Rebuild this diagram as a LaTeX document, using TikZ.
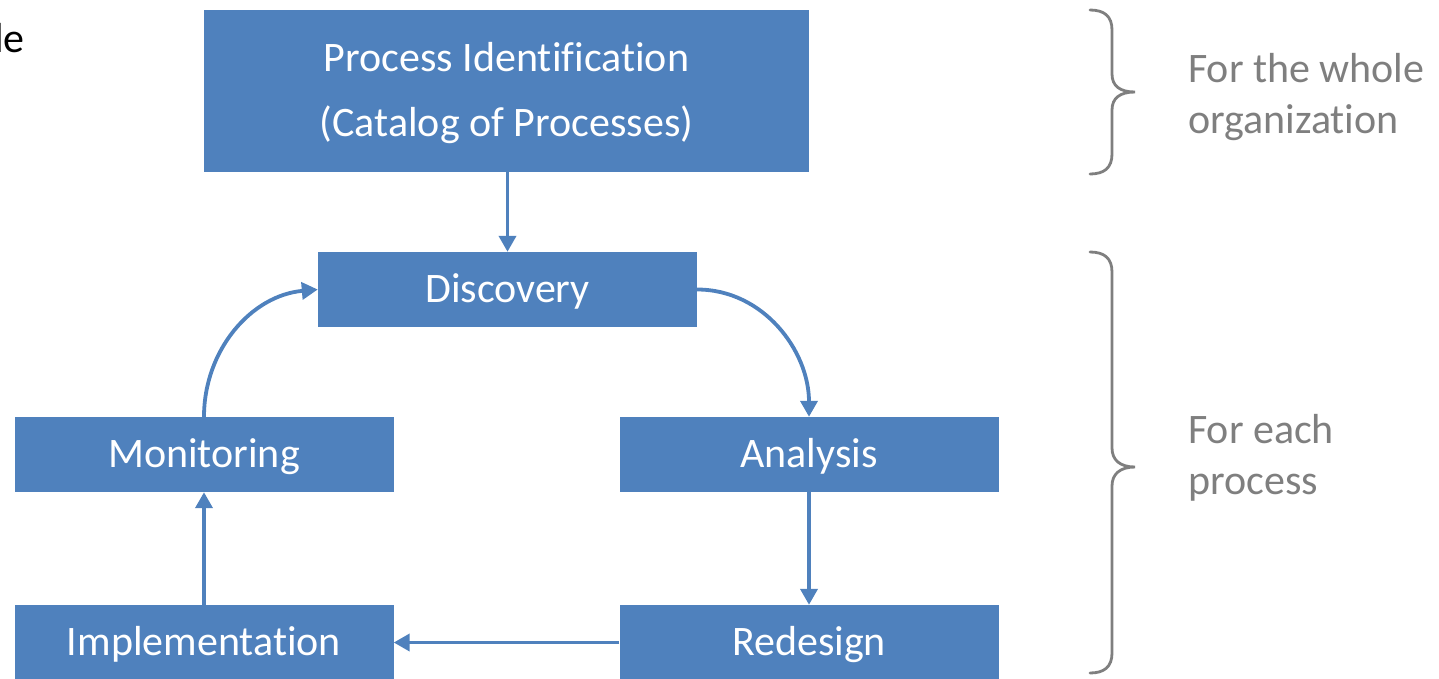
\documentclass[tikz,border=0pt]{standalone}
\usepackage{fontspec}
\setmainfont{Carlito}[Ligatures=NoCommon]
\usetikzlibrary{arrows.meta}
\definecolor{boxblue}{RGB}{79,129,189}
\definecolor{notegray}{RGB}{127,127,127}
\begin{document}
\begin{tikzpicture}[x=1pt,y=1pt,
  stage/.style={fill=boxblue, text=white, inner sep=0pt, minimum width=379pt, minimum height=75pt,
                text height=28pt, text depth=3pt, font=\fontsize{42}{50}\selectfont},
  flow/.style={draw=boxblue, line width=3.8pt, -{Triangle[length=16pt,width=17pt]}},
  brace/.style={draw=notegray, line width=2.8pt, line cap=round},
  note/.style={text=notegray, font=\fontsize{42}{51}\selectfont, align=left, anchor=north west, inner sep=0pt}]
  \useasboundingbox (0,0) rectangle (1439,-678);

  % cut-off heading text at the left edge
  \node[anchor=base west, inner sep=0pt, font=\fontsize{42}{50}\selectfont] (head) at (-6,-52) {le};

  % stages of the lifecycle
  \node[fill=boxblue, text=white, inner sep=0pt, minimum width=605pt, minimum height=162pt,
        font=\fontsize{42}{65}\selectfont] (ident) at (506.5,-91)
        {\begin{tabular}{@{}c@{}}Process Identification\\(Catalog of Processes)\end{tabular}};
  \node[stage] (disc) at (507.5,-289.5) {Discovery};
  \node[stage] (mon)  at (204,-454.5) {Monitoring};
  \node[stage] (ana)  at (809,-454.5) {Analysis};
  \node[stage] (impl) at (204,-642.5) {Implementation};
  \node[stage] (red)  at (809,-642.5) {Redesign};

  % connectors
  \draw[flow] (ident.south -| disc.north) -- (disc.north);
  \draw[flow] (disc.east) to[out=0,in=90] (ana.north);
  \draw[flow] (ana.south) -- (red.north);
  \draw[flow] (red.west) -- (impl.east);
  \draw[flow] (impl.north) -- (mon.south);
  \draw[flow] (mon.north) to[out=90,in=185] (disc.west);

  % braces with their scopes
  \draw[brace] (1090,-10) .. controls (1104,-10) and (1112,-16) .. (1112,-30)
    -- (1112,-74) .. controls (1112,-86) and (1120,-92) .. (1135,-92)
    .. controls (1120,-92) and (1112,-98) .. (1112,-110)
    -- (1112,-154) .. controls (1112,-168) and (1104,-174) .. (1090,-174);
  \draw[brace] (1090,-252) .. controls (1104,-252) and (1112,-258) .. (1112,-272)
    -- (1112,-448) .. controls (1112,-460) and (1120,-467) .. (1135,-467)
    .. controls (1120,-467) and (1112,-474) .. (1112,-486)
    -- (1112,-653) .. controls (1112,-667) and (1104,-673) .. (1090,-673);

  \node[note] (whole) at (1188,-53) {For the whole\\organization};
  \node[note] (each)  at (1188,-414) {For each\\process};
\end{tikzpicture}
\end{document}
